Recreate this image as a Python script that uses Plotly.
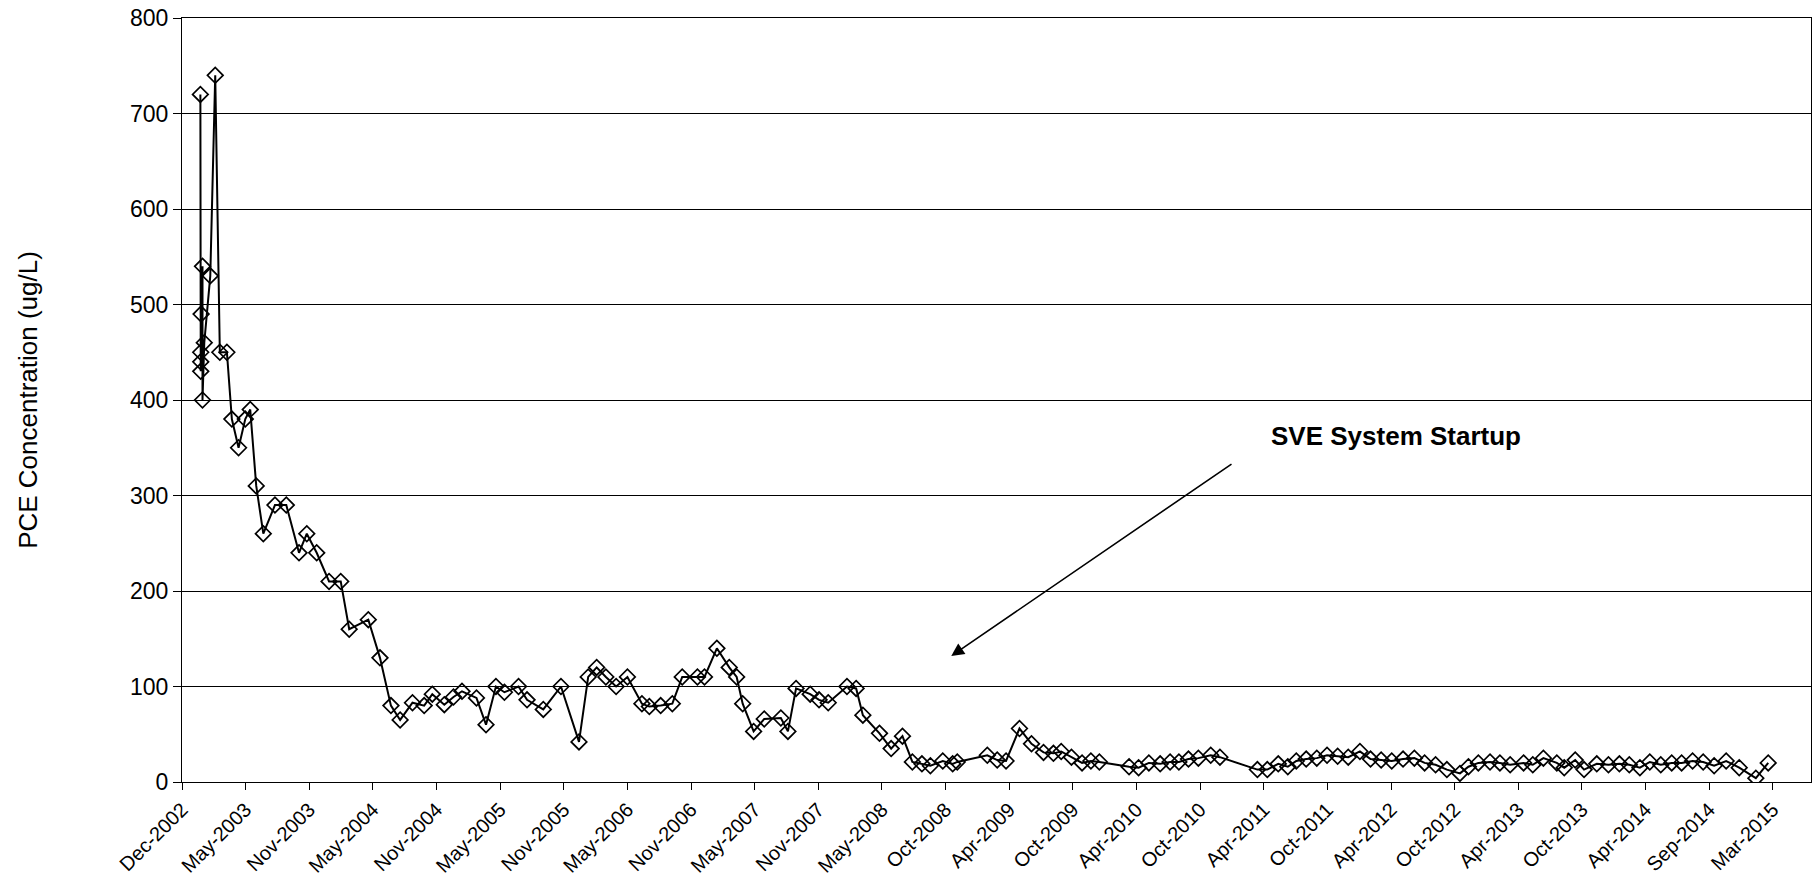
import datetime as dt
import plotly.graph_objects as go

# ---- data ----
dates = [
    "2003-01-22", "2003-01-23", "2003-01-23", "2003-01-23", "2003-01-24", "2003-01-28", "2003-01-28",
    "2003-02-02", "2003-02-19", "2003-03-05", "2003-03-18", "2003-04-07", "2003-04-21", "2003-05-10",
    "2003-05-29", "2003-06-12", "2003-06-29", "2003-07-19", "2003-08-21", "2003-09-22", "2003-10-28",
    "2003-11-19", "2003-12-17", "2004-01-21", "2004-02-23", "2004-03-18", "2004-05-11", "2004-06-13",
    "2004-07-14", "2004-08-09", "2004-09-13", "2004-10-16", "2004-11-08", "2004-12-12", "2005-01-07",
    "2005-01-31", "2005-03-13", "2005-04-09", "2005-05-07", "2005-05-31", "2005-07-10", "2005-08-03",
    "2005-09-18", "2005-11-07", "2005-12-28", "2006-01-23", "2006-02-16", "2006-03-14", "2006-04-12",
    "2006-05-14", "2006-06-24", "2006-07-15", "2006-08-16", "2006-09-18", "2006-10-16", "2006-11-28",
    "2006-12-18", "2007-01-22", "2007-02-26", "2007-03-19", "2007-04-05", "2007-05-06", "2007-06-05",
    "2007-07-22", "2007-08-11", "2007-09-03", "2007-10-13", "2007-11-07", "2007-12-03", "2008-01-25",
    "2008-02-20", "2008-03-10", "2008-04-26", "2008-05-29", "2008-06-30", "2008-07-28", "2008-08-24",
    "2008-09-17", "2008-10-22", "2008-11-19", "2008-12-02", "2009-02-25", "2009-03-25", "2009-04-19",
    "2009-05-27", "2009-06-30", "2009-08-03", "2009-08-31", "2009-09-22", "2009-10-21", "2009-11-20",
    "2009-12-15", "2010-01-08", "2010-04-02", "2010-04-29", "2010-05-28", "2010-06-29", "2010-07-27",
    "2010-08-21", "2010-09-17", "2010-10-15", "2010-11-19", "2010-12-15", "2011-03-31", "2011-04-28",
    "2011-05-29", "2011-06-25", "2011-07-19", "2011-08-16", "2011-09-15", "2011-10-14", "2011-11-13",
    "2011-12-13", "2012-01-15", "2012-02-14", "2012-03-15", "2012-04-14", "2012-05-16", "2012-06-17",
    "2012-07-16", "2012-08-16", "2012-09-17", "2012-10-24", "2012-11-17", "2012-12-15", "2013-01-17",
    "2013-02-14", "2013-03-15", "2013-04-22", "2013-05-18", "2013-06-17", "2013-07-25", "2013-08-15",
    "2013-09-15", "2013-10-10", "2013-11-15", "2013-12-18", "2014-01-18", "2014-02-15", "2014-03-17",
    "2014-04-14", "2014-05-15", "2014-06-15", "2014-07-13", "2014-08-13", "2014-09-12", "2014-10-13",
    "2014-11-16", "2014-12-23", "2015-02-08", "2015-03-15",
]
pce = [
    720, 450, 440, 430, 490, 540, 400,
    460, 530, 740, 450, 450, 380, 350,
    380, 390, 310, 260, 290, 290, 240,
    260, 240, 210, 210, 160, 170, 130,
    80, 65, 83, 80, 92, 81, 89,
    95, 88, 60, 100, 94, 100, 86,
    76, 100, 42, 110, 120, 110, 100,
    110, 82, 79, 80, 82, 110, 110,
    110, 140, 120, 110, 82, 53, 66,
    67, 53, 98, 92, 86, 83, 100,
    98, 70, 51, 35, 48, 21, 19,
    17, 22, 19, 21, 28, 23, 22,
    56, 40, 31, 30, 32, 26, 20,
    22, 21, 16, 15, 20, 19, 21,
    21, 24, 25, 28, 26, 13, 13,
    19, 16, 22, 24, 25, 28, 27,
    26, 32, 24, 23, 22, 24, 25,
    20, 18, 13, 9, 16, 20, 21,
    20, 18, 20, 18, 25, 20, 15,
    23, 13, 19, 18, 19, 18, 15,
    21, 18, 20, 20, 22, 21, 17,
    22, 15, 4, 20,
]

axis_start = "2002-12-01"
axis_end = "2015-07-14"
tick_step_days = 180
n_ticks = 26
y_ticks = [0, 100, 200, 300, 400, 500, 600, 700, 800]

annot_text = "<b>SVE System Startup</b>"
annot_text_pos = ("2012-04-26", 362)
arrow_head = ("2008-11-15", 132)
arrow_tail = ("2011-01-21", 334)

# ---- figure ----
start = dt.date.fromisoformat(axis_start)
tickvals = [start + dt.timedelta(days=tick_step_days * k) for k in range(n_ticks)]
ticktext = [t.strftime("%b-%Y") for t in tickvals]

FONT = "Arial, 'Liberation Sans', sans-serif"

fig = go.Figure()
fig.add_trace(go.Scatter(
    x=dates, y=pce, mode="lines+markers",
    line=dict(color="black", width=2),
    marker=dict(symbol="diamond-open", size=12, color="black", line=dict(width=1.7, color="black")),
    showlegend=False,
))

fig.add_annotation(
    x=annot_text_pos[0], y=annot_text_pos[1], xref="x", yref="y",
    text=annot_text, showarrow=False,
    font=dict(family=FONT, size=26, color="black"),
)
fig.add_annotation(
    x=arrow_head[0], y=arrow_head[1], xref="x", yref="y",
    ax=arrow_tail[0], ay=arrow_tail[1], axref="x", ayref="y",
    text="", showarrow=True, arrowhead=2, arrowsize=1.6, arrowwidth=1.6, arrowcolor="black",
)

fig.update_layout(
    width=1814, height=895,
    margin=dict(l=182, r=3, t=18, b=113),
    paper_bgcolor="white", plot_bgcolor="white",
    font=dict(family=FONT, color="black"),
)
fig.update_xaxes(
    range=[axis_start, axis_end],
    tickmode="array", tickvals=tickvals, ticktext=ticktext,
    tickangle=-45, tickfont=dict(size=20),
    ticks="outside", ticklen=7, tickcolor="black", tickwidth=1,
    showgrid=False, showline=True, linecolor="black", linewidth=1, mirror=True,
    zeroline=False,
)
fig.update_yaxes(
    range=[0, 800], tickmode="array", tickvals=y_ticks,
    tickfont=dict(size=23),
    ticks="outside", ticklen=8, tickcolor="black", tickwidth=1,
    showgrid=True, gridcolor="black", gridwidth=1,
    showline=True, linecolor="black", linewidth=1, mirror=True,
    zeroline=False,
    title=dict(text="PCE Concentration (ug/L)", font=dict(size=26), standoff=84),
)

fig.write_html(
    "out.html",
    config={"displayModeBar": False},
    post_script="document.body.style.margin='0';document.body.style.overflow='hidden';",
)
